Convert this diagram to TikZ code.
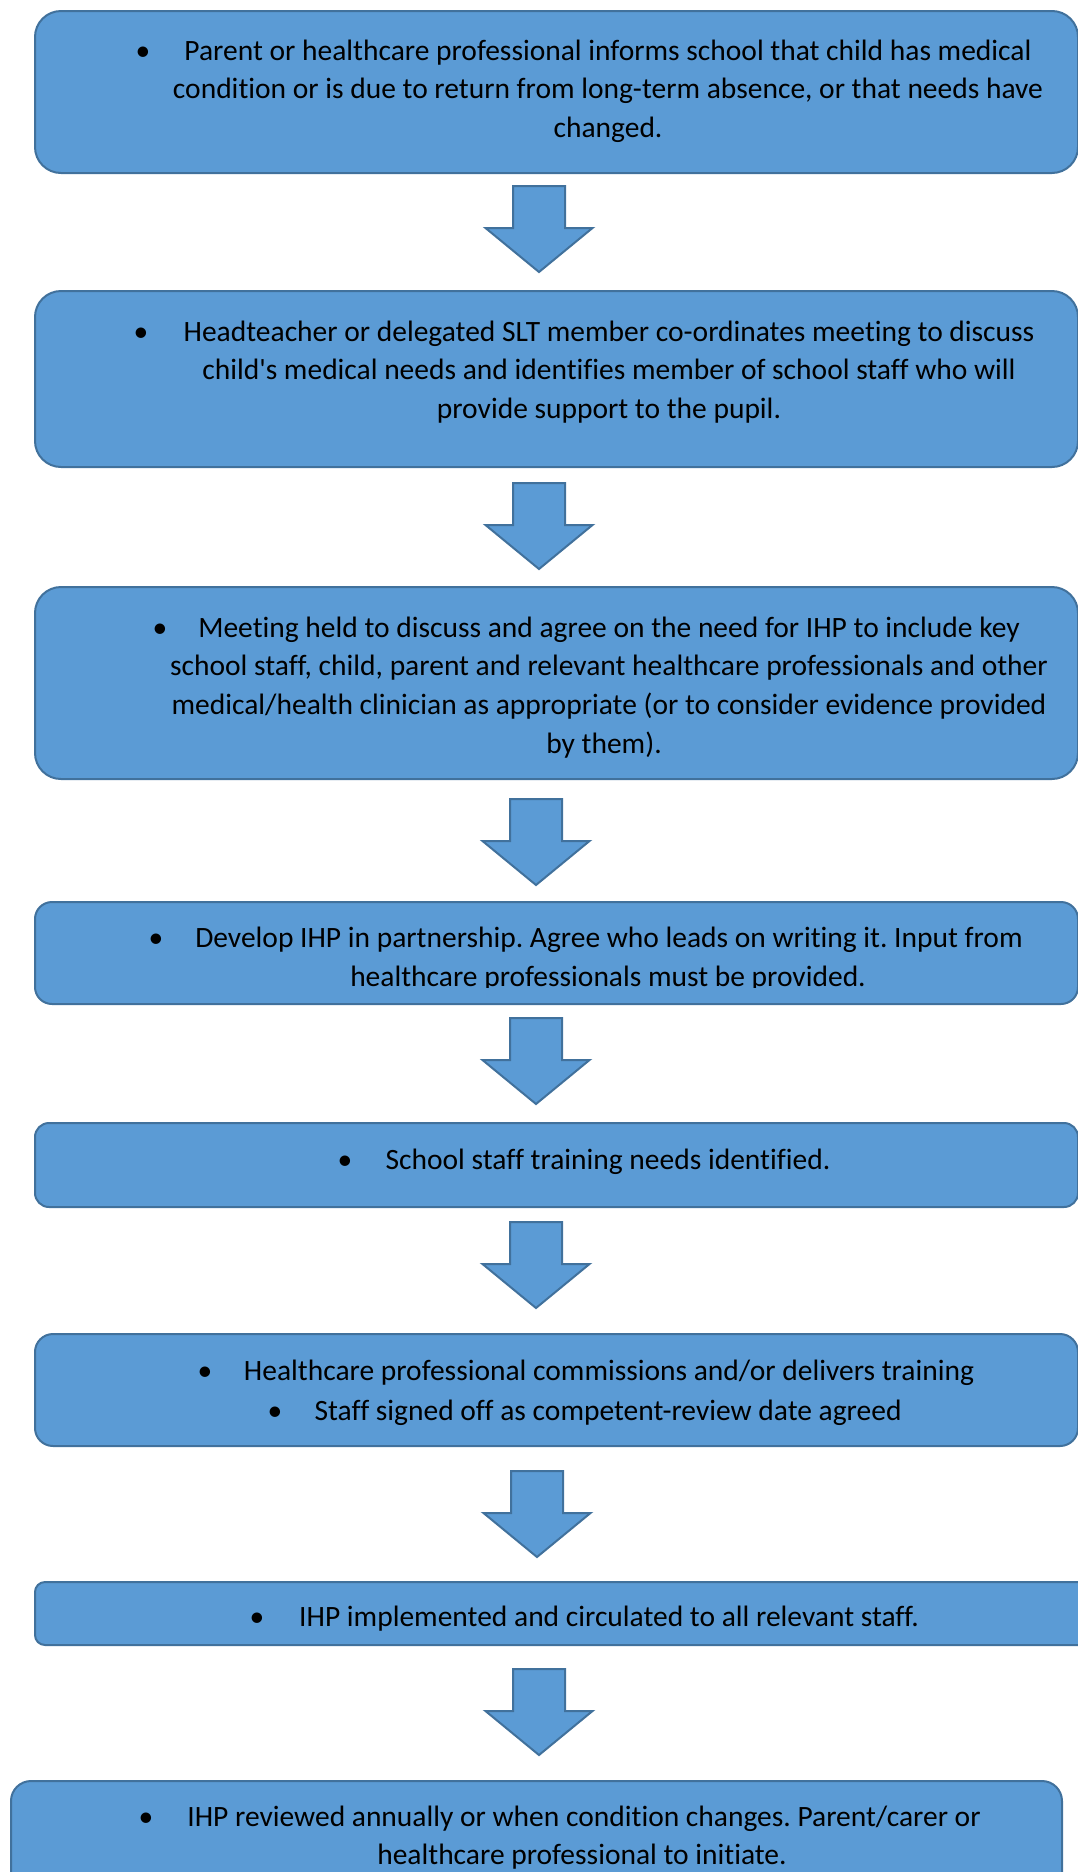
\documentclass[tikz,border=0pt]{standalone}
\usepackage{fontspec}
\setmainfont{Carlito}[Ligatures=CommonOff]
\definecolor{boxfill}{HTML}{5B9BD5}
\definecolor{boxline}{HTML}{41719C}
\frenchspacing
\tikzset{
  stepbox/.style={draw=boxline, fill=boxfill, line width=2pt, rectangle, inner sep=0pt, anchor=north west},
  txt/.style={font=\fontsize{29.5}{38.7}\selectfont, inner sep=0pt, anchor=base, text=black},
  blk/.style={draw=boxline, fill=boxfill, line width=2pt, line join=miter}
}
\newcommand\blockarrow[3]{%
  \draw[blk, shift={(#2,#3)}] (-26,0) -- (26,0) -- (26,42) -- (53.5,42) -- (0,86) -- (-53.5,42) -- (-26,42) -- cycle;
  \coordinate (#1) at (#2,#3);}
\begin{document}
\begin{tikzpicture}[x=1pt,y=-1pt]
\useasboundingbox (0,0) rectangle (1078,1872);
\clip (0,0) rectangle (1078,1872);
% boxes
\node[stepbox, rounded corners=26pt, minimum width=1043pt, minimum height=162pt] (b1) at (34,10) {};
\node[stepbox, rounded corners=26pt, minimum width=1043pt, minimum height=176pt] (b2) at (34,290) {};
\node[stepbox, rounded corners=26pt, minimum width=1043pt, minimum height=192pt] (b3) at (34,586) {};
\node[stepbox, rounded corners=17pt, minimum width=1043pt, minimum height=102pt] (b4) at (34,901) {};
\node[stepbox, rounded corners=14pt, minimum width=1043pt, minimum height=84pt] (b5) at (34,1122) {};
\node[stepbox, rounded corners=18pt, minimum width=1043pt, minimum height=112pt] (b6) at (34,1333) {};
\node[stepbox, rounded corners=10pt, minimum width=1070pt, minimum height=63pt] (b7) at (34,1581) {};
\node[stepbox, rounded corners=20pt, minimum width=1051pt, minimum height=130pt] (b8) at (10,1780) {};
% arrows
\blockarrow{a1}{539}{186}
\blockarrow{a2}{539}{483}
\blockarrow{a3}{536}{799}
\blockarrow{a4}{536}{1018}
\blockarrow{a5}{536}{1222}
\blockarrow{a6}{537}{1471}
\blockarrow{a7}{539}{1669}
% texts box 1
\node[txt] (p1) at (143,60) {\textbullet};
\node[txt] (t1a) at (608,60) {Parent or healthcare professional informs school that child has medical};
\node[txt] (t1b) at (608,98) {condition or is due to return from long-term absence, or that needs have};
\node[txt] (t1c) at (608,137) {changed.};
% box 2
\node[txt] (p2) at (141,341) {\textbullet};
\node[txt] (t2a) at (609,341) {Headteacher or delegated SLT member co-ordinates meeting to discuss};
\node[txt] (t2b) at (609,379) {child\textquotesingle s medical needs and identifies member of school staff who will};
\node[txt] (t2c) at (609,418) {provide support to the pupil.};
% box 3
\node[txt] (p3) at (160,637) {\textbullet};
\node[txt] (t3a) at (609,637) {Meeting held to discuss and agree on the need for IHP to include key};
\node[txt] (t3b) at (609,675) {school staff, child, parent and relevant healthcare professionals and other};
\node[txt] (t3c) at (609,714) {medical/health clinician as appropriate (or to consider evidence provided};
\node[txt] (t3d) at (604,753) {by them).};
% box 4
\node[txt] (p4) at (156,947) {\textbullet};
\node[txt] (t4a) at (609,947) {Develop IHP in partnership. Agree who leads on writing it. Input from};
\begin{scope}
\clip (0,950) rectangle (1078,987);
\node[txt] (t4b) at (608,986) {healthcare professionals must be provided.};
\end{scope}
% box 5
\node[txt] (p5) at (345,1169) {\textbullet};
\node[txt] (t5a) at (608,1169) {School staff training needs identified.};
% box 6
\node[txt] (p6a) at (205,1380) {\textbullet};
\node[txt] (t6a) at (609,1380) {Healthcare professional commissions and/or delivers training};
\node[txt] (p6b) at (275,1420) {\textbullet};
\node[txt] (t6b) at (608,1420) {Staff signed off as competent-review date agreed};
% box 7
\node[txt] (p7) at (257,1626) {\textbullet};
\node[txt] (t7a) at (609,1626) {IHP implemented and circulated to all relevant staff.};
% box 8
\node[txt] (p8) at (146,1826) {\textbullet};
\node[txt] (t8a) at (584,1826) {IHP reviewed annually or when condition changes. Parent/carer or};
\node[txt] (t8b) at (582,1864) {healthcare professional to initiate.};
\end{tikzpicture}
\end{document}
